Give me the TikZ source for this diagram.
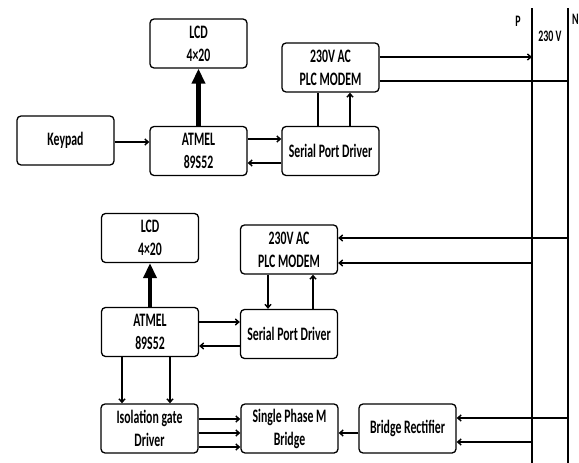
\documentclass[tikz,border=0pt]{standalone}
\usepackage{fontspec}
\setmainfont{Carlito}[FakeStretch=0.62]
\usetikzlibrary{arrows.meta,calc}
\begin{document}
\begin{tikzpicture}[x=1pt,y=-1pt,
  blk/.style={draw,line width=1.3pt,rounded corners=4pt,minimum width=97pt,minimum height=49pt,
    align=center,inner sep=0pt,font=\fontsize{19}{23}\selectfont\bfseries},
  arr/.style={line width=1.4pt,-{Straight Barb[length=3.5pt,width=6pt]}},
  ln/.style={line width=1.4pt},
  thick arrow/.style={line width=4.5pt,-{Triangle[length=15pt,width=13pt]}},
  lbl/.style={font=\fontsize{16}{18}\selectfont\bfseries,inner sep=0pt}]
\useasboundingbox (0,0) rectangle (579,463);
% mains
\coordinate (Ptop) at (532,8);
\coordinate (Pbot) at (532,463);
\coordinate (Ntop) at (568,8);
\coordinate (Nbot) at (568,463);
\draw[ln] (Ptop) -- (Pbot);
\draw[ln] (Ntop) -- (Nbot);
\node[lbl] (plab) at (518,21) {P};
\node[lbl] (nlab) at (575.5,19) {N};
\node[lbl] (vlab) at (550,36) {230 V};
% top unit
\node[blk] (lcd1) at (198.5,43.5) {LCD\\4×20};
\node[blk] (key) at (65.5,140.5) {Keypad};
\node[blk] (atm1) at (198.5,151) {ATMEL\\89S52};
\node[blk] (ser1) at (330.5,151) {Serial Port Driver};
\node[blk] (plc1) at (330.5,67.5) {230V AC\\PLC MODEM};
% bottom unit
\node[blk] (lcd2) at (150,238) {LCD\\4×20};
\node[blk] (atm2) at (150,332) {ATMEL\\89S52};
\node[blk] (plc2) at (289,249.5) {230V AC\\PLC MODEM};
\node[blk] (ser2) at (289,334) {Serial Port Driver};
\node[blk] (iso) at (149.5,428.5) {Isolation gate\\Driver};
\node[blk] (spm) at (289.5,428.5) {Single Phase M\\Bridge};
\node[blk] (br) at (407.5,428.5) {Bridge Rectifier};
% top connectors
\draw[arr] (key.east |- 0,142) -- (atm1.west |- 0,142);
\draw[arr] (atm1.east |- 0,139) -- (ser1.west |- 0,139);
\draw[arr] (ser1.west |- 0,163) -- (atm1.east |- 0,163);
\draw[thick arrow] (atm1.north) -- (lcd1.south);
\draw[ln] (ser1.north -| 318,0) -- (plc1.south -| 318,0);
\draw[arr] (ser1.north -| 350,0) -- (plc1.south -| 350,0);
\draw[arr] (plc1.east |- 0,57) -- (Ptop |- 0,57);
\draw[ln] (plc1.east |- 0,81) -- (Ntop |- 0,81);
% bottom connectors
\draw[thick arrow] (atm2.north) -- (lcd2.south);
\draw[arr] (atm2.east |- 0,322) -- (ser2.west |- 0,322);
\draw[arr] (ser2.west |- 0,346) -- (atm2.east |- 0,346);
\draw[arr] (plc2.south -| 268,0) -- (ser2.north -| 268,0);
\draw[arr] (ser2.north -| 313,0) -- (plc2.south -| 313,0);
\draw[arr] (Ntop |- 0,238) -- (plc2.east |- 0,238);
\draw[arr] (Ptop |- 0,263) -- (plc2.east |- 0,263);
\draw[arr] (atm2.south -| 122,0) -- (iso.north -| 122,0);
\draw[arr] (atm2.south -| 170,0) -- (iso.north -| 170,0);
\draw[arr] (iso.east |- 0,419) -- (spm.west |- 0,419);
\draw[arr] (iso.east |- 0,433) -- (spm.west |- 0,433);
\draw[arr] (iso.east |- 0,447) -- (spm.west |- 0,447);
\draw[arr] (br.west |- 0,433) -- (spm.east |- 0,433);
\draw[arr] (Ntop |- 0,418) -- (br.east |- 0,418);
\draw[arr] (Ptop |- 0,442) -- (br.east |- 0,442);
\end{tikzpicture}
\end{document}
